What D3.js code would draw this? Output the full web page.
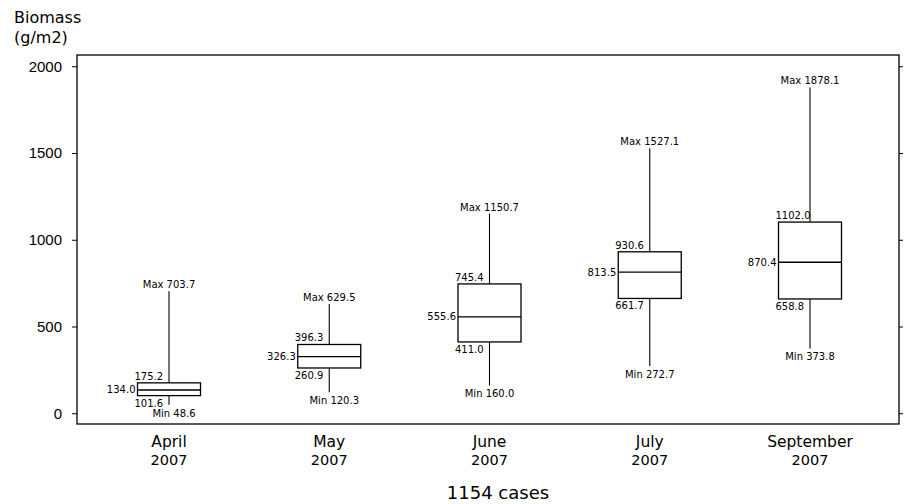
<!DOCTYPE html>
<html>
<head>
<meta charset="utf-8">
<script src="https://cdn.jsdelivr.net/npm/d3@7"></script>
<style>
  body { margin: 0; background: #fff; }
  svg { display: block; font-family: "DejaVu Sans", sans-serif; }
</style>
</head>
<body>
<div id="chart"></div>
<script>
// data
const months = ["April", "May", "June", "July", "September"];
const yearLabel = "2007";
const mins = [48.6, 120.3, 160.0, 272.7, 373.8];
const q1s = [101.6, 260.9, 411.0, 661.7, 658.8];
const medians = [134.0, 326.3, 555.6, 813.5, 870.4];
const q3s = [175.2, 396.3, 745.4, 930.6, 1102.0];
const maxs = [703.7, 629.5, 1150.7, 1527.1, 1878.1];
const yTicks = [0, 500, 1000, 1500, 2000];

const W = 904, H = 504;
const plot = { left: 77, top: 55, right: 899, bottom: 424 };
const boxW = 63;

const svg = d3.select("#chart").append("svg")
  .attr("width", W)
  .attr("height", H);

const y = d3.scaleLinear()
  .domain([-62, 2065])
  .range([plot.bottom, plot.top]);

const x = d3.scalePoint()
  .domain(months)
  .range([169, 810]);

// frame
svg.append("rect")
  .attr("x", plot.left)
  .attr("y", plot.top)
  .attr("width", plot.right - plot.left)
  .attr("height", plot.bottom - plot.top)
  .attr("fill", "none")
  .attr("stroke", "#000")
  .attr("stroke-width", 1.3);

// left axis
const yAxis = svg.append("g")
  .attr("transform", `translate(${plot.left},0)`)
  .call(d3.axisLeft(y).tickValues(yTicks).tickFormat(d3.format("d")).tickSize(5).tickPadding(10));
yAxis.select(".domain").remove();
yAxis.selectAll("text")
  .style("font-size", "15px")
  .attr("fill", "#000");

// right side ticks, no labels
const yAxisR = svg.append("g")
  .attr("transform", `translate(${plot.right},0)`)
  .call(d3.axisRight(y).tickValues(yTicks).tickSize(4).tickFormat(""));
yAxisR.select(".domain").remove();

// y title
svg.append("text")
  .attr("x", 14).attr("y", 22.5)
  .style("font-size", "16px")
  .text("Biomass");
svg.append("text")
  .attr("x", 14).attr("y", 43)
  .style("font-size", "16px")
  .text("(g/m2)");

const rows = months.map((m, i) => ({
  month: m, min: mins[i], q1: q1s[i], med: medians[i], q3: q3s[i], max: maxs[i]
}));

const g = svg.selectAll("g.box")
  .data(rows)
  .join("g")
  .attr("class", "box")
  .attr("transform", d => `translate(${x(d.month)},0)`);

// whiskers
g.append("line")
  .attr("x1", 0).attr("x2", 0)
  .attr("y1", d => y(d.max)).attr("y2", d => y(d.q3))
  .attr("stroke", "#000").attr("stroke-width", 1.1);
g.append("line")
  .attr("x1", 0).attr("x2", 0)
  .attr("y1", d => y(d.q1)).attr("y2", d => y(d.min))
  .attr("stroke", "#000").attr("stroke-width", 1.1);

// box
g.append("rect")
  .attr("x", -boxW / 2)
  .attr("y", d => y(d.q3))
  .attr("width", boxW)
  .attr("height", d => y(d.q1) - y(d.q3))
  .attr("fill", "#fff")
  .attr("stroke", "#000")
  .attr("stroke-width", 1.3);

// median line
g.append("line")
  .attr("x1", -boxW / 2).attr("x2", boxW / 2)
  .attr("y1", d => y(d.med)).attr("y2", d => y(d.med))
  .attr("stroke", "#000").attr("stroke-width", 1.3);

// labels
const lab = sel => sel.style("font-size", "10px").attr("fill", "#000");

g.append("text").call(lab)
  .attr("x", 0).attr("y", d => y(d.max) - 3)
  .attr("text-anchor", "middle")
  .text(d => "Max " + d.max.toFixed(1));

// min label moves right when it would sit on the lower quartile label
g.append("text").call(lab)
  .attr("x", d => (y(d.min) - y(d.q1) < 30 ? 5 : 0))
  .attr("y", d => y(d.min) + 12)
  .attr("text-anchor", "middle")
  .text(d => "Min " + d.min.toFixed(1));

g.append("text").call(lab)
  .attr("x", -boxW / 2 - 3).attr("y", d => y(d.q3) - 3)
  .text(d => d.q3.toFixed(1));

g.append("text").call(lab)
  .attr("x", -boxW / 2 - 3).attr("y", d => y(d.q1) + 11)
  .text(d => d.q1.toFixed(1));

g.append("text").call(lab)
  .attr("x", -boxW / 2 - 2).attr("y", d => y(d.med))
  .attr("text-anchor", "end")
  .attr("dominant-baseline", "central")
  .text(d => d.med.toFixed(1));

// category labels
g.append("text")
  .attr("x", 0).attr("y", 447)
  .attr("text-anchor", "middle")
  .style("font-size", "15.5px")
  .text(d => d.month);
g.append("text")
  .attr("x", 0).attr("y", 465)
  .attr("text-anchor", "middle")
  .style("font-size", "14.5px")
  .text(yearLabel);

svg.append("text")
  .attr("x", 498).attr("y", 499)
  .attr("text-anchor", "middle")
  .style("font-size", "18px")
  .text("1154 cases");
</script>
</body>
</html>
